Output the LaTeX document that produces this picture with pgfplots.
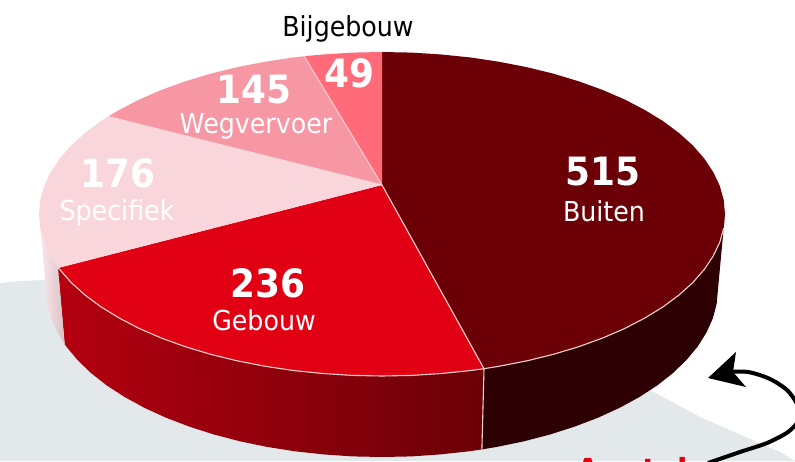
\documentclass[border=0pt]{standalone}
\usepackage{pgfplots}
\pgfplotsset{compat=1.18}
\usepackage{fontspec}
\newfontfamily\lab[FakeStretch=0.92]{DejaVu Sans}
\definecolor{cBuiten}{HTML}{6B0007}
\definecolor{cBuitenSide}{HTML}{2D0003}
\definecolor{cGebouw}{HTML}{E10013}
\definecolor{cSpec}{HTML}{F9D6DB}
\definecolor{cWeg}{HTML}{F797A3}
\definecolor{cBij}{HTML}{FF6B78}
\definecolor{cFloor}{HTML}{E3E8EB}
\definecolor{cRim}{HTML}{F6D2CC}
\newcommand{\num}[3]{\node[anchor=base,text=white,font=\lab\bfseries\fontsize{39}{41}\selectfont] at (axis cs:#1,#2) {#3};}
\newcommand{\name}[4][white]{\node[anchor=base,text=#1,font=\lab\fontsize{27.5}{30}\selectfont] at (axis cs:#2,#3) {#4};}
\begin{document}
\begin{tikzpicture}
\useasboundingbox (0,0) rectangle (795pt,461pt);
\begin{axis}[
    at={(0,0)}, anchor=south west,
    scale only axis, width=795pt, height=461pt,
    xmin=0, xmax=795, ymin=0, ymax=461,
    y dir=reverse,
    hide axis,
    no markers,
]

% floor behind the pie
\addplot[fill=cFloor, draw=none] coordinates {
    (0,283) (20,281) (45,280) (200,285) (400,310) (560,345) (650,390) (700,417) (780,452) (795,461) (0,461)
} -- cycle;

% curved arrow
\addplot[black, line width=4pt, smooth] coordinates {
    (725,372) (748,372) (770,379) (788,391) (799,408) (799,420) (788,432) (767,443) (740,452) (708,463)
};
\addplot[fill=black, draw=none] coordinates {
    (708,378) (736,352) (733,372) (746,387)
} -- cycle;

% side walls
\addplot[fill=cBuitenSide, draw=none] coordinates {
    (725,214) (723.7,228.1) (719.8,242.1) (713.3,255.9) (704.3,269.4) (692.9,282.5) (679,295) (663,306.9) (644.7,318.1) (624.5,328.6)
    (602.5,338.1) (578.7,346.7) (553.5,354.3) (527,360.8) (499.3,366.2) (484,368.7)
    (481.9,449.4) (496.9,446.9) (524,441.3) (550,434.5) (574.7,426.6) (598,417.7) (619.6,407.8) (639.4,397) (657.3,385.4) (673,373)
    (686.5,360) (697.7,346.5) (706.5,332.5) (712.9,318.2) (716.7,303.6) (718,289)
} -- cycle;
\addplot[left color=cGebouw!80!black, right color=cBuiten, draw=none] coordinates {
    (484,368.7) (470.8,370.5) (441.5,373.5) (411.9,375.4) (382,376) (352.1,375.4) (322.5,373.5) (293.2,370.5) (264.7,366.2) (237,360.8)
    (210.5,354.3) (185.3,346.7) (161.5,338.1) (139.5,328.6) (119.3,318.1) (101,306.9) (85,295) (71.1,282.5) (59.7,269.4) (58,268)
    (64.7,344.3) (66.3,346.5) (77.5,360) (91,373) (106.7,385.4) (124.6,397) (144.4,407.8) (166,417.7) (189.3,426.6) (214,434.5)
    (240,441.3) (267.1,446.9) (295,451.3) (323.7,454.4) (352.7,456.4) (382,457) (411.3,456.4) (440.3,454.4) (469,451.3) (481.9,449.4)
} -- cycle;
\addplot[left color=cSpec!50!white, right color=cSpec!75!gray, draw=none] coordinates {
    (58,268) (50.7,255.9) (44.2,242.1) (40.3,228.1) (39,214) (46,289) (47.3,303.6) (51.1,318.2) (57.5,332.5) (64.7,344.3)
} -- cycle;

% top face: Buiten 515
\addplot[fill=cBuiten, draw=none] coordinates {
    (382,185) (382,52) (411.9,52.6) (441.5,54.5) (470.8,57.5) (499.3,61.8) (527,67.2) (553.5,73.7) (578.7,81.3) (602.5,89.9) (624.5,99.4)
    (644.7,109.9) (663,121.1) (679,133) (692.9,145.5) (704.3,158.6) (713.3,172.1) (719.8,185.9) (723.7,199.9) (725,214)
    (723.7,228.1) (719.8,242.1) (713.3,255.9) (704.3,269.4) (692.9,282.5) (679,295) (663,306.9) (644.7,318.1) (624.5,328.6)
    (602.5,338.1) (578.7,346.7) (553.5,354.3) (527,360.8) (499.3,366.2) (484,368.7)
} -- cycle;
% Gebouw 236
\addplot[fill=cGebouw, draw=none] coordinates {
    (382,185) (484,368.7) (470.8,370.5) (441.5,373.5) (411.9,375.4) (382,376) (352.1,375.4) (322.5,373.5) (293.2,370.5) (264.7,366.2) (237,360.8)
    (210.5,354.3) (185.3,346.7) (161.5,338.1) (139.5,328.6) (119.3,318.1) (101,306.9) (85,295) (71.1,282.5) (59.7,269.4) (58,268)
} -- cycle;
% Specifiek 176
\addplot[fill=cSpec, draw=none] coordinates {
    (382,185) (58,268) (50.7,255.9) (44.2,242.1) (40.3,228.1) (39,214) (40.3,199.9) (44.2,185.9) (50.7,172.1) (59.7,158.6) (71.1,145.5) (85,133) (101,121.1) (108,116.5)
} -- cycle;
% Wegvervoer 145
\addplot[fill=cWeg, draw=none] coordinates {
    (382,185) (108,116.5) (119.3,109.9) (139.5,99.4) (161.5,89.9) (185.3,81.3) (210.5,73.7) (237,67.2) (264.7,61.8) (293.2,57.5) (304.2,56.2)
} -- cycle;
% Bijgebouw 49
\addplot[fill=cBij, draw=none] coordinates {
    (382,185) (304.2,56.2) (322.5,54.5) (352.1,52.6) (382,52)
} -- cycle;

% pale rim and dividers
\addplot[cRim, line width=1.1pt] coordinates {
    (723.7,228.1) (719.8,242.1) (713.3,255.9) (704.3,269.4) (692.9,282.5) (679,295) (663,306.9) (644.7,318.1) (624.5,328.6)
    (602.5,338.1) (578.7,346.7) (553.5,354.3) (527,360.8) (499.3,366.2) (484,368.7)
    (470.8,370.5) (441.5,373.5) (411.9,375.4) (382,376) (352.1,375.4) (322.5,373.5) (293.2,370.5) (264.7,366.2) (237,360.8)
    (210.5,354.3) (185.3,346.7) (161.5,338.1) (139.5,328.6) (119.3,318.1) (101,306.9) (85,295) (71.1,282.5) (59.7,269.4) (58,268)
};
\addplot[cRim, line width=1.1pt] coordinates {(382,185) (484,368.7) (481.9,449.4)};
\addplot[cSpec, line width=1.1pt] coordinates {(382,185) (108,116.5)};
\addplot[cSpec!80!cWeg, line width=1.1pt] coordinates {(382,185) (304.2,56.2)};

% labels
\num{603}{185}{515}
\name{604}{221}{Buiten}
\num{268}{297}{236}
\name{264}{330}{Gebouw}
\num{118}{187}{176}
\name{117}{220}{Specifiek}
\num{254}{103}{145}
\name{256}{133}{Wegvervoer}
\num{349}{87}{49}
\name[black]{348}{36}{Bijgebouw}
\node[anchor=base west,text=cGebouw,font=\lab\bfseries\fontsize{33}{36}\selectfont] at (axis cs:573,482) {Aantal};
\end{axis}
\end{tikzpicture}
\end{document}
